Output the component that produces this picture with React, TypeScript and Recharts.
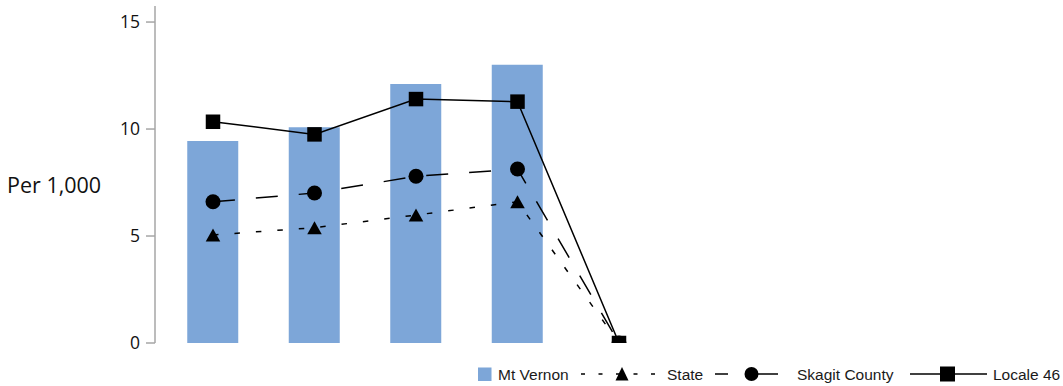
import React from "react";
import { ComposedChart, Bar, Line, XAxis, YAxis } from "recharts";

const categories = ["Year 1", "Year 2", "Year 3", "Year 4", "Year 5"];
const mtVernon = [9.44, 10.08, 12.1, 13.0, null];
const stateVals = [5.05, 5.39, 5.98, 6.6, 0];
const skagit = [6.6, 7.01, 7.79, 8.13, 0];
const locale46 = [10.34, 9.75, 11.4, 11.28, 0];
const yTicks = [0, 5, 10, 15];
const seriesNames = ["Mt Vernon", "State", "Skagit County", "Locale 46"];

const data = categories.map((c, i) => ({
  name: c,
  mtVernon: mtVernon[i],
  state: stateVals[i],
  skagit: skagit[i],
  locale: locale46[i],
}));

const BAR_COLOR = "#7DA6D8";

const SquareDot = (props: any) => {
  const { cx, cy, index } = props;
  if (cx == null || cy == null) return null;
  const s = 14.5;
  return <rect key={`sq-${index}`} x={cx - s / 2} y={cy - s / 2} width={s} height={s} fill="#000" />;
};
const CircleDot = (props: any) => {
  const { cx, cy, index } = props;
  if (cx == null || cy == null) return null;
  return <circle key={`ci-${index}`} cx={cx} cy={cy} r={7.5} fill="#000" />;
};
const TriangleDot = (props: any) => {
  const { cx, cy, index } = props;
  if (cx == null || cy == null) return null;
  const w = 14.5;
  const h = 13;
  return (
    <polygon
      key={`tr-${index}`}
      points={`${cx},${cy - h / 2} ${cx + w / 2},${cy + h / 2} ${cx - w / 2},${cy + h / 2}`}
      fill="#000"
    />
  );
};

const legendFont = { fontFamily: "'Liberation Sans', Arial, sans-serif", fontSize: 15.5, fill: "#1a1a1a" };

const LegendSvg = () => {
  const cy = 14;
  return (
    <svg width={1063} height={26} style={{ position: "absolute", left: 0, top: 360 }}>
      <rect x={478} y={cy - 6.5} width={13.5} height={13.5} fill={BAR_COLOR} />
      <text x={498} y={cy} dominantBaseline="central" style={legendFont as any}>{seriesNames[0]}</text>

      <line x1={581} y1={cy} x2={655} y2={cy} stroke="#000" strokeWidth={1.5} strokeDasharray="4 13.5" />
      <polygon points={`622,${cy - 7} 628.5,${cy + 6.5} 615.5,${cy + 6.5}`} fill="#000" />
      <text x={667} y={cy} dominantBaseline="central" style={legendFont as any}>{seriesNames[1]}</text>

      <line x1={715} y1={cy} x2={728} y2={cy} stroke="#000" strokeWidth={1.5} />
      <line x1={745} y1={cy} x2={778} y2={cy} stroke="#000" strokeWidth={1.5} />
      <circle cx={751.5} cy={cy} r={7} fill="#000" />
      <text x={797} y={cy} dominantBaseline="central" style={legendFont as any}>{seriesNames[2]}</text>

      <line x1={910} y1={cy} x2={987} y2={cy} stroke="#000" strokeWidth={1.5} />
      <rect x={940} y={cy - 7.5} width={15} height={15} fill="#000" />
      <text x={993} y={cy} dominantBaseline="central" style={legendFont as any}>{seriesNames[3]}</text>
    </svg>
  );
};

export default function App() {
  return (
    <div style={{ position: "absolute", left: 0, top: 0, width: 1063, height: 386, background: "#fff" }}>
      <ComposedChart
        width={1063}
        height={386}
        data={data}
        margin={{ top: 6, right: 0, bottom: 43, left: 0 }}
      >
        <XAxis dataKey="name" hide padding={{ left: 7.25, right: 393.25 }} />
        <YAxis
          width={155}
          domain={[0, 15.75]}
          ticks={yTicks}
          allowDataOverflow
          axisLine={{ stroke: "#A6A6A6", strokeWidth: 1.5 }}
          tickLine={{ stroke: "#A6A6A6", strokeWidth: 1.5 }}
          tickSize={9}
          tickMargin={6}
          tick={{ fontSize: 17.5, fill: "#111", fontFamily: "'Open Sans', sans-serif" }}
          label={{
            value: "Per 1,000",
            position: "insideLeft",
            offset: 7,
            dy: 11,
            style: { fontSize: 21.5, fill: "#111", fontFamily: "'Open Sans', sans-serif", textAnchor: "start" },
          }}
        />
        <Bar dataKey="mtVernon" fill={BAR_COLOR} barSize={51} isAnimationActive={false} />
        <Line
          dataKey="state"
          stroke="#000"
          strokeWidth={1.5}
          strokeDasharray="5.5 16"
          dot={<TriangleDot />}
          activeDot={false}
          isAnimationActive={false}
        />
        <Line
          dataKey="skagit"
          stroke="#000"
          strokeWidth={1.5}
          strokeDasharray="22 21"
          dot={<CircleDot />}
          activeDot={false}
          isAnimationActive={false}
        />
        <Line
          dataKey="locale"
          stroke="#000"
          strokeWidth={1.5}
          dot={<SquareDot />}
          activeDot={false}
          isAnimationActive={false}
        />
      </ComposedChart>
      <LegendSvg />
    </div>
  );
}
